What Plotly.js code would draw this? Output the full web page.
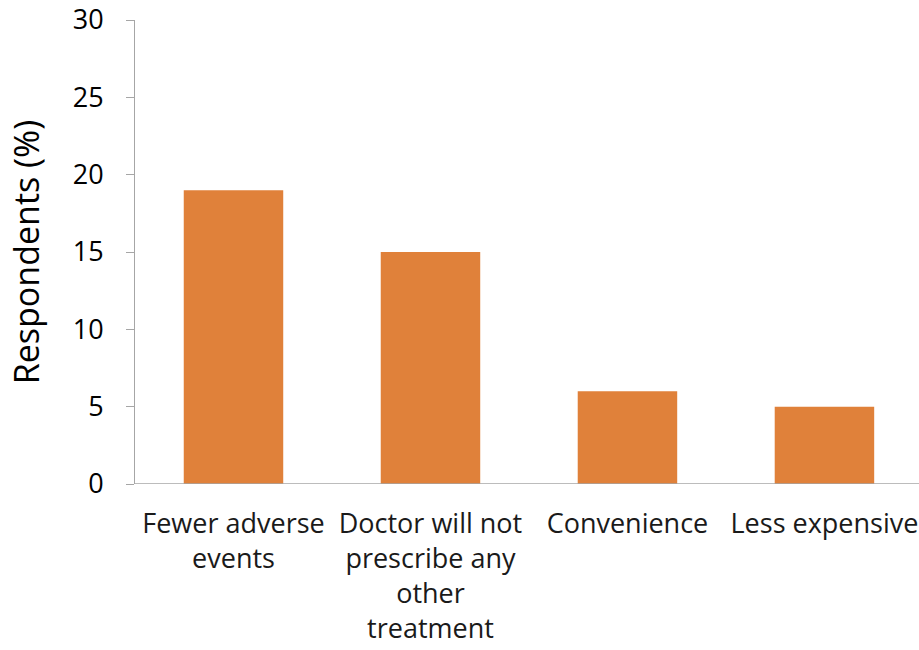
<!DOCTYPE html>
<html>
<head>
<meta charset="utf-8">
<script src="https://cdn.plot.ly/plotly-3.0.1.min.js"></script>
<style>html,body{margin:0;padding:0;background:#fff;}#chart{width:919px;height:650px;}</style>
</head>
<body>
<div id="chart"></div>
<script>
const categories = ["Fewer adverse events", "Doctor will not prescribe any other treatment", "Convenience", "Less expensive"];
const tickLabels = ["Fewer adverse<br>events", "Doctor will not<br>prescribe any<br>other<br>treatment", "Convenience", "Less expensive"];
const respondents = [19, 15, 6, 5];
const yTicks = [0, 5, 10, 15, 20, 25, 30];

const trace = {
  type: "bar",
  x: categories,
  y: respondents,
  marker: {color: "#E0813A"},
  hoverinfo: "x+y"
};

const layout = {
  width: 919,
  height: 650,
  margin: {l: 135, r: 0, t: 20, b: 166},
  paper_bgcolor: "#ffffff",
  plot_bgcolor: "#ffffff",
  bargap: 0.495,
  showlegend: false,
  font: {family: "Open Sans, sans-serif", color: "#000000"},
  xaxis: {
    type: "category",
    tickmode: "array",
    tickvals: categories,
    ticktext: tickLabels,
    range: [-0.5, 3.48],
    showline: false,
    showgrid: false,
    zeroline: false,
    ticks: "",
    tickfont: {size: 27, family: "Open Sans, sans-serif", color: "#1a1a1a"},
    ticklabelstandoff: 21,
    automargin: false
  },
  yaxis: {
    range: [0, 30],
    tickmode: "array",
    tickvals: yTicks,
    showline: true,
    linecolor: "#A6A6A6",
    linewidth: 1,
    showgrid: false,
    zeroline: false,
    ticks: "outside",
    ticklen: 8,
    tickcolor: "#A6A6A6",
    tickfont: {size: 27, family: "Open Sans, sans-serif", color: "#000"},
    ticklabelstandoff: 17,
    title: {text: "Respondents (%)", font: {size: 34, family: "Open Sans, sans-serif", color: "#000"}, standoff: 22},
    automargin: false
  },
  shapes: [{type: "line", xref: "paper", yref: "y", x0: 0, x1: 1, y0: 0, y1: 0, line: {color: "#A6A6A6", width: 1.5}}]
};

Plotly.newPlot("chart", [trace], layout, {displayModeBar: false, staticPlot: true});
</script>
</body>
</html>
